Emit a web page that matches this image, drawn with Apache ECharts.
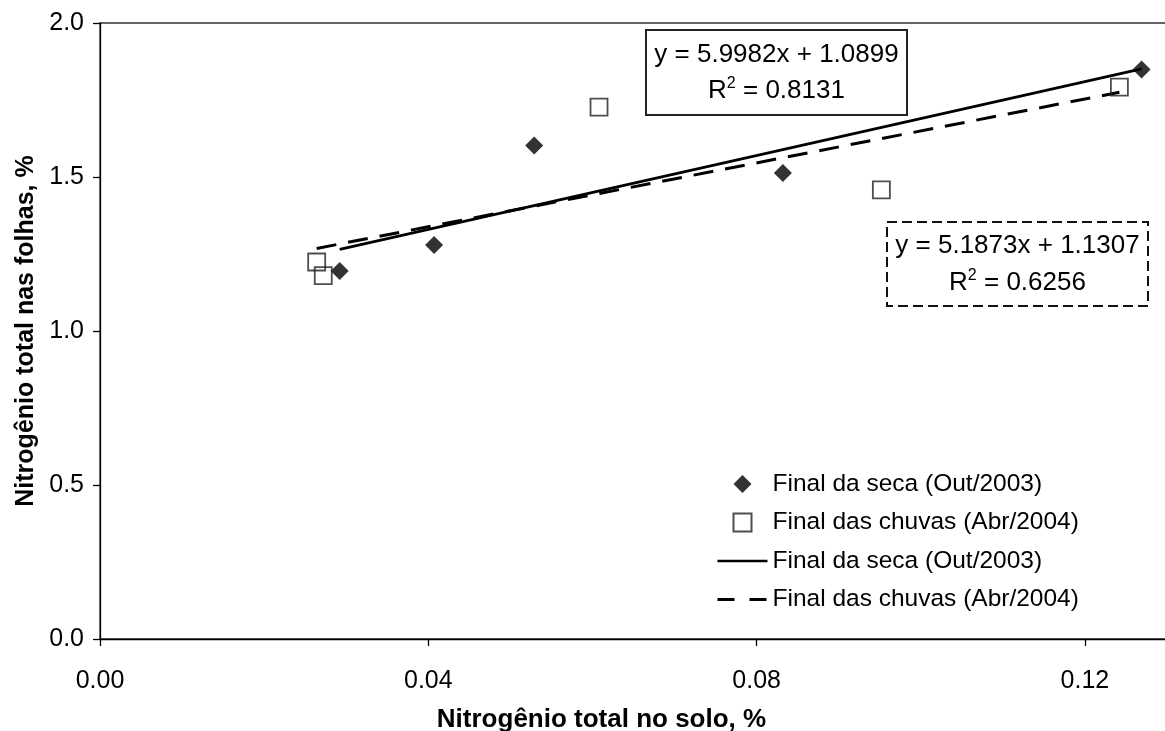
<!DOCTYPE html>
<html>
<head>
<meta charset="utf-8">
<script src="https://cdn.jsdelivr.net/npm/echarts@6/dist/echarts.min.js"></script>
<style>
  html, body { margin: 0; padding: 0; background: #fff; }
  #chart { width: 1165px; height: 731px; }
</style>
</head>
<body>
<div id="chart"></div>
<script>
// Final da seca (Out/2003)
const secaSolo = [0.0292, 0.0407, 0.0529, 0.0832, 0.1269]
const secaFolhas = [1.195, 1.279, 1.602, 1.513, 1.849]
// Final das chuvas (Abr/2004)
const chuvaSolo = [0.0264, 0.0272, 0.0608, 0.0952, 0.1242]
const chuvaFolhas = [1.224, 1.180, 1.727, 1.458, 1.792]
// linhas de tendencia (extremos)
const secaTrendX = [0.0292, 0.1269]
const secaTrendY = [1.265, 1.851]
const chuvaTrendX = [0.0264, 0.1242]
const chuvaTrendY = [1.268, 1.775]
// eixos
const yTicks = [0, 0.5, 1.0, 1.5, 2.0]
const xTicks = [0, 0.04, 0.08, 0.12]

const nomeSeca = 'Final da seca (Out/2003)'
const nomeChuva = 'Final das chuvas (Abr/2004)'
const font = 'Liberation Sans, Arial, sans-serif'

const diamond = 'path://M0,-1 L1,0 L0,1 L-1,0 Z'
const square = 'path://M0,0 L1,0 L1,1 L0,1 Z'

const pairs = (xs, ys) => xs.map((x, i) => [x, ys[i]])

const chart = echarts.init(document.getElementById('chart'))

const option = {
  backgroundColor: '#fff',
  animation: false,
  textStyle: { fontFamily: font, color: '#000' },
  grid: {
    left: 100, top: 23, right: -2, bottom: 92,
    outerBoundsMode: 'none',
    containLabel: false,
    show: true, borderColor: '#333', borderWidth: 1.3
  },
  xAxis: {
    type: 'value',
    min: xTicks[0],
    max: 0.13,
    interval: 0.04,
    name: 'Nitrogênio total no solo, %',
    nameLocation: 'middle',
    nameGap: 68,
    nameTextStyle: { fontSize: 26, fontWeight: 'bold', color: '#000', padding: [0, 64, 0, 0] },
    axisLine: { lineStyle: { color: '#000', width: 1.3 } },
    axisTick: { show: true, length: 7, inside: false, lineStyle: { color: '#000', width: 1.3 } },
    axisLabel: {
      fontSize: 25, color: '#000', margin: 30, showMaxLabel: false,
      formatter: v => v.toFixed(2)
    },
    splitLine: { show: false }
  },
  yAxis: {
    type: 'value',
    min: yTicks[0],
    max: yTicks[yTicks.length - 1],
    interval: 0.5,
    name: 'Nitrogênio total nas folhas, %',
    nameLocation: 'middle',
    nameGap: 47,
    nameTextStyle: { fontSize: 25, fontWeight: 'bold', color: '#000' },
    axisLine: { show: true, lineStyle: { color: '#000', width: 1.3 } },
    axisTick: { show: true, length: 7, lineStyle: { color: '#000', width: 1.3 } },
    axisLabel: { fontSize: 25, color: '#000', margin: 16, formatter: v => v.toFixed(1) },
    splitLine: { show: false }
  },
  legend: {
    orient: 'vertical',
    left: 711,
    top: 466,
    itemWidth: 50,
    itemHeight: 18,
    itemGap: 12.5,
    textStyle: { fontSize: 24.5, color: '#000', fontFamily: font, lineHeight: 26 },
    formatter: n => n.replace('\u200b', ''),
    data: [
      { name: nomeSeca, icon: diamond },
      { name: nomeChuva, icon: square },
      {
        name: nomeSeca + '\u200b',
        itemStyle: { color: 'rgba(0,0,0,0)', borderWidth: 0 },
        lineStyle: { color: '#000', width: 2.6, type: 'solid' }
      },
      {
        name: nomeChuva + '\u200b',
        itemStyle: { color: 'rgba(0,0,0,0)', borderWidth: 0 },
        lineStyle: { color: '#000', width: 3, type: [17, 15] }
      }
    ]
  },
  series: [
    {
      name: nomeSeca,
      type: 'scatter',
      symbol: diamond,
      symbolSize: 18,
      itemStyle: { color: '#000' },
      data: pairs(secaSolo, secaFolhas),
      z: 5
    },
    {
      name: nomeChuva,
      type: 'scatter',
      symbol: square,
      symbolKeepAspect: true,
      symbolSize: 17,
      itemStyle: { color: 'rgba(255,255,255,0)', borderColor: '#222', borderWidth: 1.8 },
      data: pairs(chuvaSolo, chuvaFolhas),
      z: 5
    },
    {
      name: nomeSeca + '\u200b',
      type: 'line',
      symbol: 'none',
      lineStyle: { color: '#000', width: 2.6 },
      itemStyle: { color: '#000' },
      data: pairs(secaTrendX, secaTrendY),
      z: 3
    },
    {
      name: nomeChuva + '\u200b',
      type: 'line',
      symbol: 'none',
      lineStyle: { color: '#000', width: 3, type: [20, 12] },
      itemStyle: { color: '#000' },
      data: pairs(chuvaTrendX, chuvaTrendY),
      z: 3
    }
  ],
  graphic: [
    {
      type: 'group', left: 645, top: 29,
      children: [
        { type: 'rect', shape: { x: 0, y: 0, width: 261, height: 85 },
          style: { fill: '#fff', stroke: '#222', lineWidth: 2 } },
        { type: 'text', x: 130.5, y: 25, style: {
          text: 'y = 5.9982x + 1.0899', font: '26px ' + font, fill: '#000',
          align: 'center', verticalAlign: 'middle' } },
        { type: 'text', x: 130.5, y: 61, style: {
          text: '{b|R}{s|2}{b| = 0.8131}', align: 'center', verticalAlign: 'middle',
          rich: {
            b: { fontSize: 26, fontFamily: font, fill: '#000', lineHeight: 30 },
            s: { fontSize: 16, fontFamily: font, fill: '#000', verticalAlign: 'top', lineHeight: 30, padding: [0, 0, 12, 0] }
          } } }
      ]
    },
    {
      type: 'group', left: 886, top: 221,
      children: [
        { type: 'rect', shape: { x: 0, y: 0, width: 261, height: 84 },
          style: { fill: '#fff', stroke: '#111', lineWidth: 2, lineDash: [10, 5] } },
        { type: 'text', x: 130.5, y: 24, style: {
          text: 'y = 5.1873x + 1.1307', font: '26px ' + font, fill: '#000',
          align: 'center', verticalAlign: 'middle' } },
        { type: 'text', x: 130.5, y: 61, style: {
          text: '{b|R}{s|2}{b| = 0.6256}', align: 'center', verticalAlign: 'middle',
          rich: {
            b: { fontSize: 26, fontFamily: font, fill: '#000', lineHeight: 30 },
            s: { fontSize: 16, fontFamily: font, fill: '#000', verticalAlign: 'top', lineHeight: 30, padding: [0, 0, 12, 0] }
          } } }
      ]
    }
  ]
}

chart.setOption(option)
window.onresize = function () {
  chart.resize()
}
</script>
</body>
</html>
